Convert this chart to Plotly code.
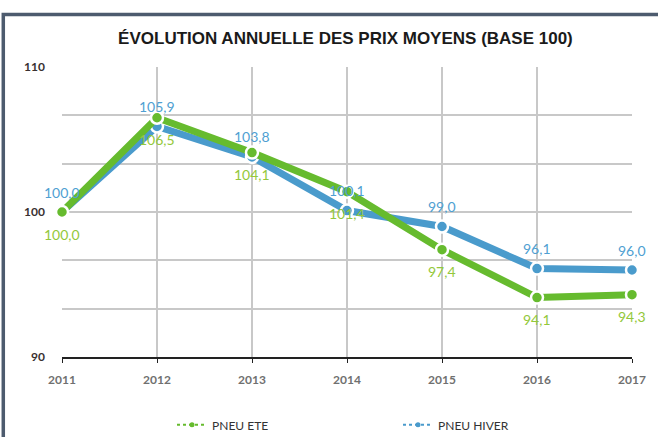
import plotly.graph_objects as go

years = ["2011", "2012", "2013", "2014", "2015", "2016", "2017"]
pneu_ete = [100.0, 106.5, 104.1, 101.4, 97.4, 94.1, 94.3]
pneu_hiver = [100.0, 105.9, 103.8, 100.1, 99.0, 96.1, 96.0]

y_ticks = [90, 90 + 20 / 6, 90 + 40 / 6, 100, 90 + 80 / 6, 90 + 100 / 6, 110]
y_ticktext = ["90", "", "", "100", "", "", "110"]

GREEN = "#66bb2e"
GREEN_TXT = "#93c83a"
BLUE = "#4a9bcc"
BLUE_TXT = "#4f9fd2"
FONT = "Lato"


def fr(v):
    return f"{v:.1f}".replace(".", ",")


fig = go.Figure()

fig.add_trace(go.Scatter(
    x=years, y=pneu_hiver, name="PNEU HIVER", mode="lines+markers",
    line=dict(color=BLUE, width=7),
    marker=dict(size=12, color=BLUE, line=dict(color="white", width=2.5)),
    cliponaxis=False, showlegend=False,
))
fig.add_trace(go.Scatter(
    x=years, y=pneu_ete, name="PNEU ETE", mode="lines+markers",
    line=dict(color=GREEN, width=7),
    marker=dict(size=12, color=GREEN, line=dict(color="white", width=2.5)),
    cliponaxis=False, showlegend=False,
))

# legend-only entries (dotted symbol like the original)
for name, col in [("PNEU ETE", GREEN), ("PNEU HIVER", BLUE)]:
    fig.add_trace(go.Scatter(
        x=[None], y=[None], name=name, mode="lines+markers",
        line=dict(color=col, width=2, dash="dot"),
        marker=dict(size=5, color=col),
    ))

# data labels: winter above, summer below (x given as category index)
for i, v in enumerate(pneu_hiver):
    fig.add_annotation(x=i, y=v, text=fr(v), showarrow=False, yshift=20,
                       font=dict(color=BLUE_TXT, size=14, family=FONT))
for i, v in enumerate(pneu_ete):
    fig.add_annotation(x=i, y=v, text=fr(v), showarrow=False, yshift=-22,
                       font=dict(color=GREEN_TXT, size=14, family=FONT))

fig.update_layout(
    width=658, height=437,
    paper_bgcolor="white", plot_bgcolor="white",
    margin=dict(l=62, r=26, t=67, b=80, autoexpand=False),
    title=dict(text="<b>ÉVOLUTION ANNUELLE DES PRIX MOYENS (BASE 100)</b>",
               x=0.525, xanchor="center", y=0.913, yanchor="middle",
               font=dict(family="Liberation Sans", size=17, color="#1a1a1a")),
    font=dict(family=FONT, color="#333"),
    legend=dict(orientation="h", x=0.193, xanchor="left", y=-0.234, yanchor="middle",
                entrywidth=181, entrywidthmode="pixels",
                font=dict(size=12, color="#333", family=FONT)),
    shapes=[dict(type="rect", xref="paper", yref="paper",
                 x0=-0.103, x1=1.2, y0=-0.6, y1=1.181,
                 line=dict(color="#4d5b6e", width=3.5), layer="below")],
)

fig.update_xaxes(
    type="category", range=[0, 6],
    showgrid=True, gridcolor="#c8c8c8", gridwidth=1.5,
    showline=True, linecolor="#222", linewidth=1.5,
    ticks="outside", ticklen=4, tickcolor="#222",
    ticklabelstandoff=7,
    tickfont=dict(size=12, color="#707070", family=FONT, weight="bold"),
    zeroline=False,
)
fig.update_yaxes(
    range=[90, 110], tickvals=y_ticks, ticktext=y_ticktext,
    showgrid=True, gridcolor="#c8c8c8", gridwidth=1.5,
    showline=False, zeroline=False, ticks="",
    ticklabelstandoff=16,
    tickfont=dict(size=12, color="#3a3030", family=FONT, weight="bold"),
)

fig.write_html("out.html", config={"displayModeBar": False},
               post_script="document.body.style.margin='0';")
